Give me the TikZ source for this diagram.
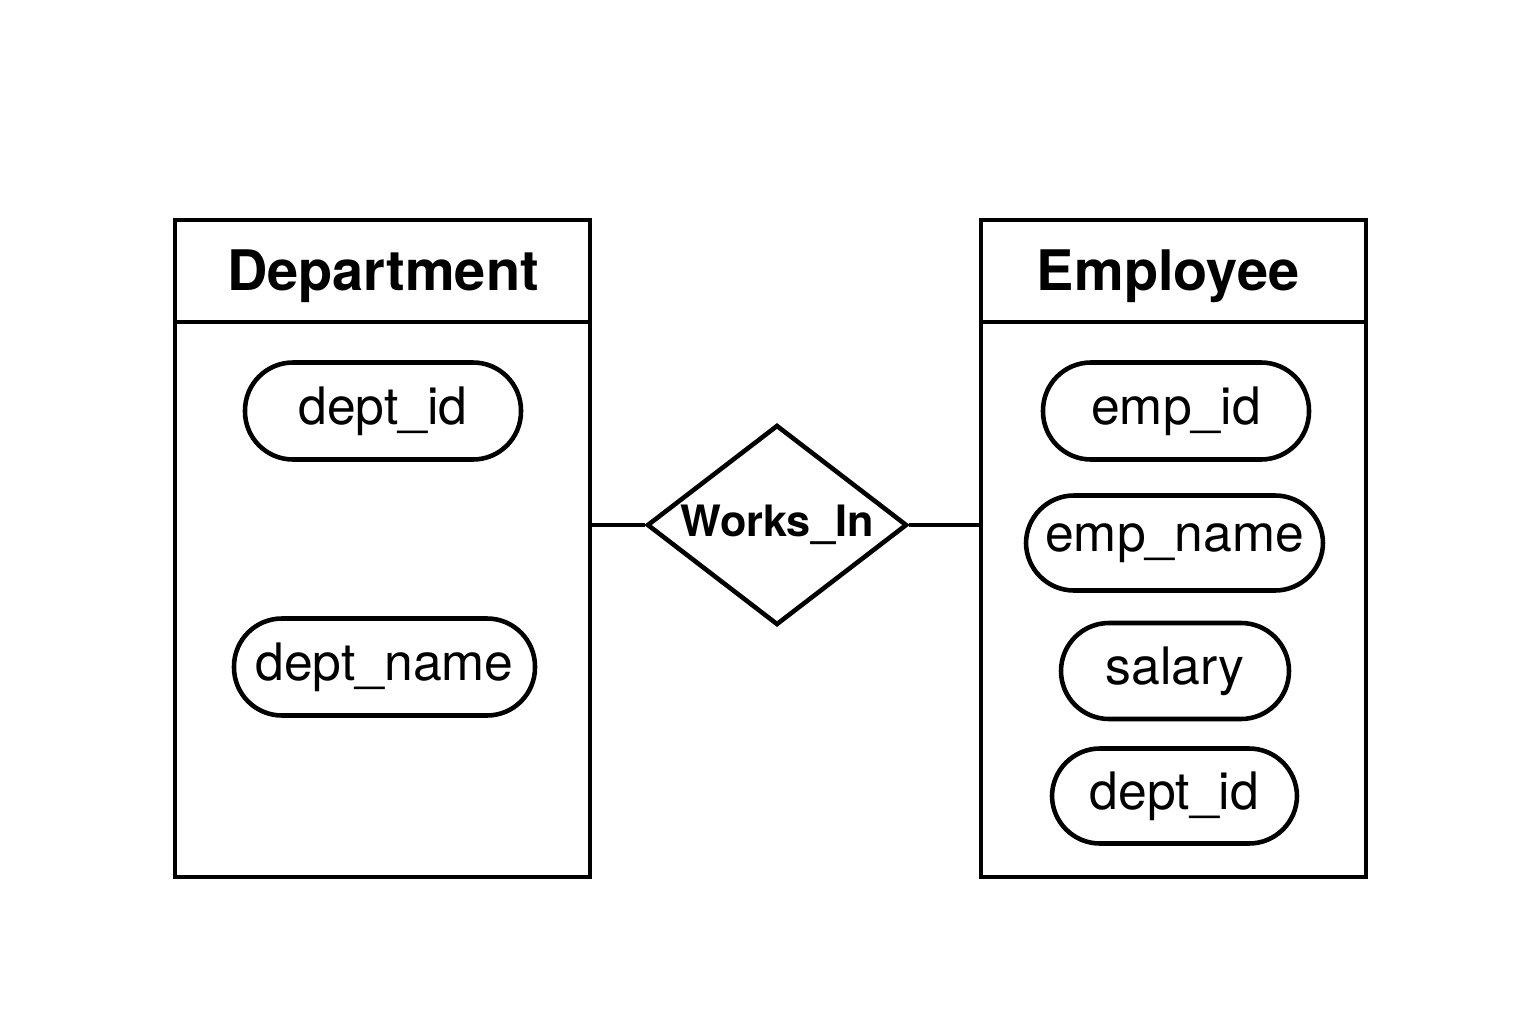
\documentclass[tikz,border=0pt]{standalone}
\usepackage{fontspec}
\setmainfont{TeX Gyre Heros}
\usetikzlibrary{positioning,shapes.geometric}
\definecolor{Ctraco}{RGB}{0,0,0}

\begin{document}
\begin{tikzpicture}[scale=1.0,
    entidade/.style={draw=Ctraco, line width=1.3pt, minimum height=6.57cm, inner sep=0pt},
    atributo/.style={draw=Ctraco, line width=1.3pt, rounded corners=0.48cm,
      minimum height=0.97cm, inner sep=0pt, font=\fontsize{14.7}{18}\selectfont},
    titulo/.style={font=\bfseries\fontsize{15.9}{19}\selectfont},
    relacao/.style={draw=Ctraco, line width=1.3pt, diamond, minimum width=2.6cm,
      minimum height=2cm, inner sep=0pt},
    ligacao/.style={draw=Ctraco, line width=1.3pt}]
      % Moldura da figura (1536 x 1024)
      \useasboundingbox (0,0) rectangle (15.36,10.24);
      % Entidade Department
      \node[entidade, minimum width=4.15cm] (dep) at (3.825,4.755) {};
      \draw[ligacao] (dep.west |- 0,7.02) -- (dep.east |- 0,7.02);
      \node[titulo] (depT) at (3.83,7.48) {Department};
      \node[atributo, minimum width=2.76cm] (depId) at (3.83,6.13) {dept\_id};
      \node[atributo, minimum width=3.01cm] (depNome) at (3.845,3.57) {dept\_name};
      % Entidade Employee
      \node[entidade, minimum width=3.85cm] (emp) at (11.735,4.755) {};
      \draw[ligacao] (emp.west |- 0,7.02) -- (emp.east |- 0,7.02);
      \node[titulo] (empT) at (11.68,7.48) {Employee};
      \node[atributo, minimum width=2.66cm] (empId) at (11.76,6.13) {emp\_id};
      \node[atributo, minimum width=2.97cm, minimum height=0.95cm] (empNome) at (11.745,4.81) {emp\_name};
      \node[atributo, minimum width=2.28cm, minimum height=0.96cm] (empSal) at (11.75,3.53) {salary};
      \node[atributo, minimum width=2.45cm, minimum height=0.95cm] (empDep) at (11.745,2.28) {dept\_id};
      % Relacionamento Works_In
      \node[relacao, label={[font=\bfseries\fontsize{12.3}{15}\selectfont]center:Works\_In}] (trab) at (7.77,4.99) {};
      \draw[ligacao] (trab.west) -- (trab.west -| dep.east);
      \draw[ligacao] (trab.east) -- (trab.east -| emp.west);
    \end{tikzpicture}
\end{document}
